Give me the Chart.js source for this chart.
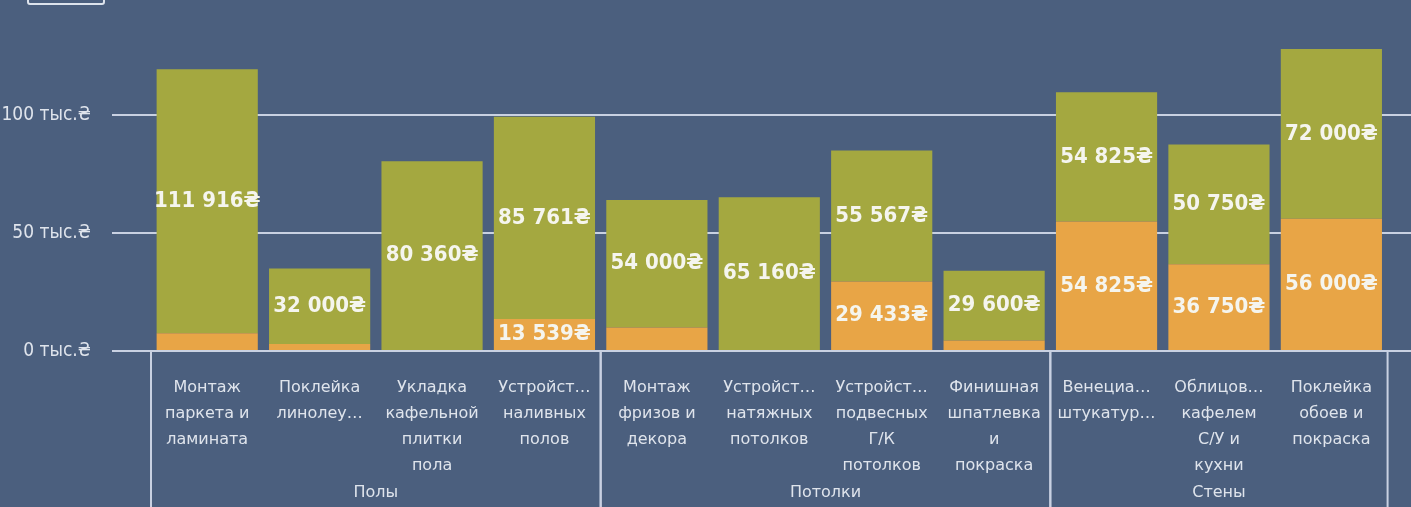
<!DOCTYPE html>
<html lang="ru">
<head>
<meta charset="utf-8">
<title>Стоимость работ</title>
<script src="https://cdn.jsdelivr.net/npm/chart.js@4.4.1/dist/chart.umd.min.js"></script>
<style>
  html, body { margin: 0; padding: 0; background: #4b5f7e; overflow: hidden; }
  body { width: 1411px; height: 507px; position: relative; }
  #tab { position: absolute; left: 27px; top: -20px; width: 74px; height: 21px; border: 2px solid #dde3ec; border-radius: 3px; }
  #wrap { position: absolute; left: 0; top: 0; width: 1500px; height: 507px; }
</style>
</head>
<body>
<div id="tab"></div>
<div id="wrap"><canvas id="worksChart"></canvas></div>
<script>
// categories (as shown, with truncated names), last one is off-screen / empty
const categories = [
    ['Монтаж', 'паркета и', 'ламината'],
    ['Поклейка', 'линолеу…'],
    ['Укладка', 'кафельной', 'плитки', 'пола'],
    ['Устройст…', 'наливных', 'полов'],
    ['Монтаж', 'фризов и', 'декора'],
    ['Устройст…', 'натяжных', 'потолков'],
    ['Устройст…', 'подвесных', 'Г/К', 'потолков'],
    ['Финишная', 'шпатлевка', 'и', 'покраска'],
    ['Венециа…', 'штукатур…'],
    ['Облицов…', 'кафелем', 'С/У и', 'кухни'],
    ['Поклейка', 'обоев и', 'покраска'],
    ''
];
const groups = ['Полы', 'Потолки', 'Стены'];
const groupSizes = [4, 4, 3];

const materialValues = [7500, 3000, 0, 13539, 10000, 0, 29433, 4400, 54825, 36750, 56000, null];
const workValues = [111916, 32000, 80360, 85761, 54000, 65160, 55567, 29600, 54825, 50750, 72000, null];

const yTicks = [0, 50000, 100000];
const yMax = 135000;
const labelMin = 12000;

const textColor = '#dfe4ec';
const gridColor = '#c9d1e2';

function money(v) {
    return String(v).replace(/\B(?=(\d{3})+(?!\d))/g, ' ') + '₴';
}

// value labels in the middle of each segment
const valueLabels = {
    id: 'valueLabels',
    afterDatasetsDraw(chart) {
        const ctx = chart.ctx;
        ctx.save();
        ctx.font = 'bold 22px "DejaVu Sans Condensed"';
        ctx.fillStyle = '#f5f5ee';
        ctx.textAlign = 'center';
        ctx.textBaseline = 'middle';
        chart.data.datasets.forEach((ds, di) => {
            chart.getDatasetMeta(di).data.forEach((bar, i) => {
                const v = ds.data[i];
                if (v == null || v < labelMin) return;
                ctx.fillText(money(v), bar.x, (bar.y + bar.base) / 2);
            });
        });
        ctx.restore();
    }
};

// group separators and group names under the category labels
const groupAxis = {
    id: 'groupAxis',
    afterDraw(chart) {
        const x = chart.scales.x;
        const ctx = chart.ctx;
        const step = x.width / x.ticks.length;
        let start = 0;
        ctx.save();
        ctx.strokeStyle = gridColor;
        ctx.lineWidth = 2;
        ctx.fillStyle = textColor;
        ctx.font = '16px "DejaVu Sans"';
        ctx.textAlign = 'center';
        ctx.textBaseline = 'middle';
        groups.forEach((name, g) => {
            const end = start + groupSizes[g];
            const left = x.getPixelForValue(start) - step / 2;
            const right = x.getPixelForValue(end - 1) + step / 2;
            [left, right].forEach(px => {
                ctx.beginPath();
                ctx.moveTo(px, x.top);
                ctx.lineTo(px, chart.height);
                ctx.stroke();
            });
            ctx.fillText(name, (left + right) / 2, x.top + 142);
            start = end;
        });
        ctx.restore();
    }
};

let ctx = document.getElementById('worksChart').getContext('2d');
new Chart(ctx, {
    type: 'bar',
    data: {
        labels: categories,
        datasets: [{
            label: 'Материалы',
            data: materialValues,
            backgroundColor: '#e8a546',
            categoryPercentage: 1,
            barPercentage: 0.9
        }, {
            label: 'Работы',
            data: workValues,
            backgroundColor: '#a4a840',
            categoryPercentage: 1,
            barPercentage: 0.9
        }]
    },
    options: {
        responsive: true,
        maintainAspectRatio: false,
        animation: false,
        layout: { padding: { top: 20, left: 0, right: 0, bottom: 0 } },
        plugins: {
            legend: { display: false },
            tooltip: { enabled: false }
        },
        scales: {
            x: {
                stacked: true,
                grid: { display: false, drawTicks: false },
                border: { display: false },
                ticks: {
                    color: textColor,
                    font: { family: 'DejaVu Sans', size: 16, lineHeight: 1.62 },
                    padding: 24,
                    maxRotation: 0,
                    autoSkip: false
                },
                afterFit: s => { s.height = 156; }
            },
            y: {
                stacked: true,
                min: 0,
                max: yMax,
                afterBuildTicks: s => { s.ticks = yTicks.map(v => ({ value: v })); },
                grid: { color: gridColor, lineWidth: 2, tickLength: 39 },
                border: { display: false },
                ticks: {
                    color: textColor,
                    font: { family: 'DejaVu Sans Condensed', size: 19 },
                    padding: 21,
                    callback: v => (v / 1000) + ' тыс.₴'
                },
                afterFit: s => { s.width = 151; }
            }
        }
    },
    plugins: [valueLabels, groupAxis]
});
</script>
</body>
</html>
